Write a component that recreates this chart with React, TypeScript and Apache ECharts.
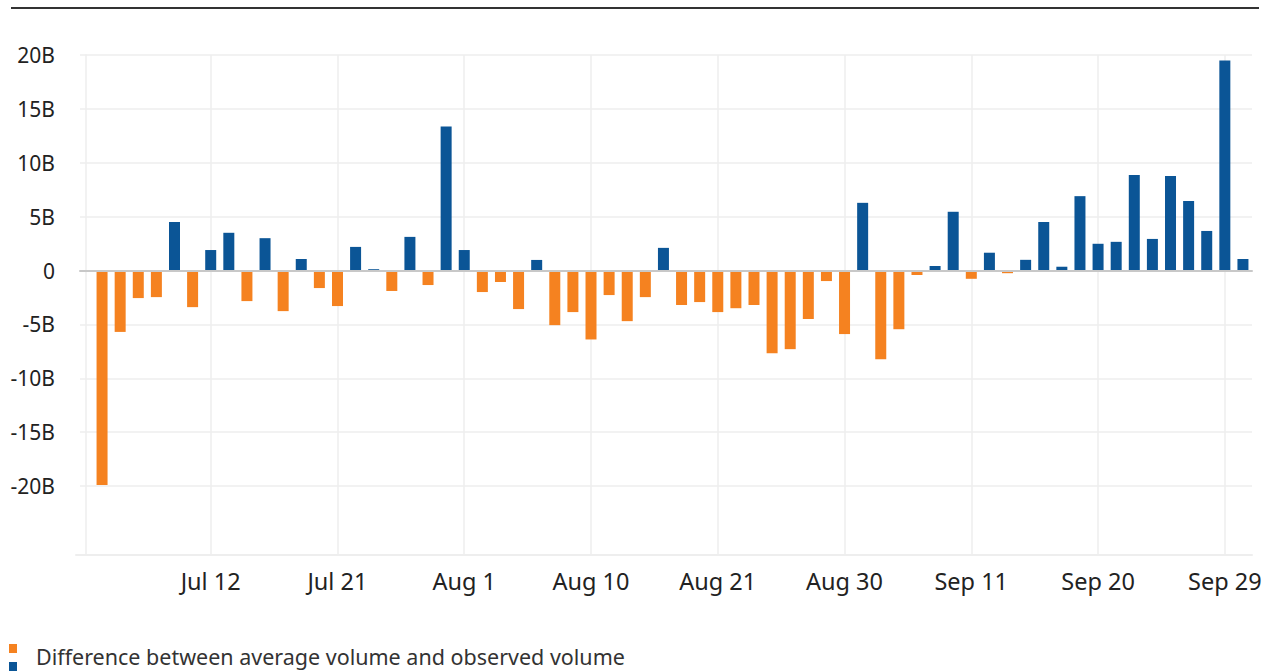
import React, { useEffect, useRef } from "react";
import * as echarts from "echarts";

const dates: string[] = [
  "Jul 3", "Jul 5", "Jul 6", "Jul 7", "Jul 10", "Jul 11", "Jul 12", "Jul 13", "Jul 14", "Jul 17",
  "Jul 18", "Jul 19", "Jul 20", "Jul 21", "Jul 24", "Jul 25", "Jul 26", "Jul 27", "Jul 28", "Jul 31",
  "Aug 1", "Aug 2", "Aug 3", "Aug 4", "Aug 7", "Aug 8", "Aug 9", "Aug 10", "Aug 11", "Aug 14",
  "Aug 15", "Aug 16", "Aug 17", "Aug 18", "Aug 21", "Aug 22", "Aug 23", "Aug 24", "Aug 25", "Aug 28",
  "Aug 29", "Aug 30", "Aug 31", "Sep 1", "Sep 5", "Sep 6", "Sep 7", "Sep 8", "Sep 11", "Sep 12",
  "Sep 13", "Sep 14", "Sep 15", "Sep 18", "Sep 19", "Sep 20", "Sep 21", "Sep 22", "Sep 25", "Sep 26",
  "Sep 27", "Sep 28", "Sep 29", "Oct 2",
];

// Difference between average volume and observed volume, in billions
const diffValues: number[] = [
  -19.9, -5.7, -2.56, -2.47, 4.5, -3.4, 1.9, 3.5, -2.84, 3.0,
  -3.77, 1.07, -1.63, -3.3, 2.19, 0.12, -1.9, 3.12, -1.35, 13.36,
  1.9, -2.0, -1.07, -3.58, 0.98, -5.07, -3.86, -6.4, -2.28, -4.7,
  -2.47, 2.1, -3.2, -2.93, -3.86, -3.5, -3.2, -7.68, -7.3, -4.5,
  -0.98, -5.9, 6.28, -8.24, -5.45, -0.42, 0.42, 5.45, -0.77, 1.65,
  -0.25, 0.99, 4.5, 0.35, 6.9, 2.48, 2.66, 8.86, 2.93, 8.77,
  6.45, 3.67, 19.5, 1.07,
];

const yTicks = { min: -20, max: 20, interval: 5 };
const legendLabel = "Difference between average volume and observed volume";

const ORANGE = "#F58220";
const BLUE = "#0B5596";
const GRID_COLOR = "#eeeeee";
const FONT = "'Noto Sans', 'Open Sans', sans-serif";
const TEXT_COLOR = "#222222";

export default function App() {
  const ref = useRef<HTMLDivElement>(null);

  useEffect(() => {
    if (!ref.current) return;
    const chart = echarts.init(ref.current, undefined, { renderer: "svg" });
    const labelEvery = (i: number) => i >= 6 && (i - 6) % 7 === 0;

    chart.setOption({
      animation: false,
      backgroundColor: "#ffffff",
      textStyle: { fontFamily: FONT },
      grid: [
        { left: 80, right: 18, top: 55, bottom: 186 },
        { left: 93, right: 18, top: 55, bottom: 186 },
        { left: 102, right: 27.1, top: 55, bottom: 117 },
        { left: 76, right: 18, top: 55, bottom: 117 },
      ],
      xAxis: [
        {
          gridIndex: 0, type: "value", min: 0, max: 1, z: 5,
          axisLine: { show: true, onZero: true, lineStyle: { color: "#c8c8c8", width: 2 } },
          axisLabel: { show: false }, axisTick: { show: false }, splitLine: { show: false },
        },
        {
          gridIndex: 1, type: "category", data: dates, show: false,
        },
        {
          gridIndex: 2, type: "category", data: dates, boundaryGap: false,
          axisLine: { show: false },
          axisTick: { show: false },
          axisLabel: {
            interval: labelEvery, margin: 14, color: TEXT_COLOR, fontSize: 23.5, fontFamily: FONT,
          },
          splitLine: { show: true, interval: labelEvery, lineStyle: { color: GRID_COLOR, width: 1.5 } },
        },
        {
          gridIndex: 3, type: "value", min: 0, max: 1,
          axisLine: { show: true, onZero: false, lineStyle: { color: GRID_COLOR, width: 2 } },
          axisLabel: { show: false }, axisTick: { show: false }, splitLine: { show: false },
        },
      ],
      yAxis: [
        {
          gridIndex: 0, type: "value", min: yTicks.min, max: yTicks.max, interval: yTicks.interval,
          axisLine: { show: false }, axisTick: { show: false },
          axisLabel: {
            margin: 25, color: TEXT_COLOR, fontSize: 21, fontFamily: FONT,
            formatter: (v: number) => (v === 0 ? "0" : `${v}B`),
          },
          splitLine: { show: true, lineStyle: { color: GRID_COLOR, width: 1.5 } },
        },
        {
          gridIndex: 1, type: "value", min: yTicks.min, max: yTicks.max, show: false,
        },
        {
          gridIndex: 2, type: "value", min: 0, max: 1, offset: 16,
          axisLine: { show: true, lineStyle: { color: GRID_COLOR, width: 1.5 } },
          axisLabel: { show: false }, axisTick: { show: false }, splitLine: { show: false },
        },
        {
          gridIndex: 3, type: "value", min: 0, max: 1, show: false,
        },
      ],
      series: [
        {
          type: "bar",
          xAxisIndex: 1,
          yAxisIndex: 1,
          barWidth: 11,
          data: diffValues,
          itemStyle: {
            color: (p: any) => (p.value < 0 ? ORANGE : BLUE),
          },
        },
      ],
      graphic: [
        {
          type: "line",
          shape: { x1: 11, y1: 8, x2: 1259, y2: 8 },
          style: { stroke: "#333333", lineWidth: 2 },
        },
        { type: "rect", shape: { x: 9, y: 644, width: 8, height: 9 }, style: { fill: ORANGE } },
        { type: "rect", shape: { x: 9, y: 662, width: 8, height: 9 }, style: { fill: BLUE } },
        {
          type: "text",
          x: 36,
          y: 656,
          style: {
            text: legendLabel,
            fill: "#333333",
            font: `21.5px ${FONT}`,
            textVerticalAlign: "middle",
            verticalAlign: "middle",
          },
        },
      ],
    });
    return () => chart.dispose();
  }, []);

  return (
    <div
      ref={ref}
      style={{ position: "absolute", left: 0, top: 0, width: 1270, height: 672 }}
    />
  );
}
